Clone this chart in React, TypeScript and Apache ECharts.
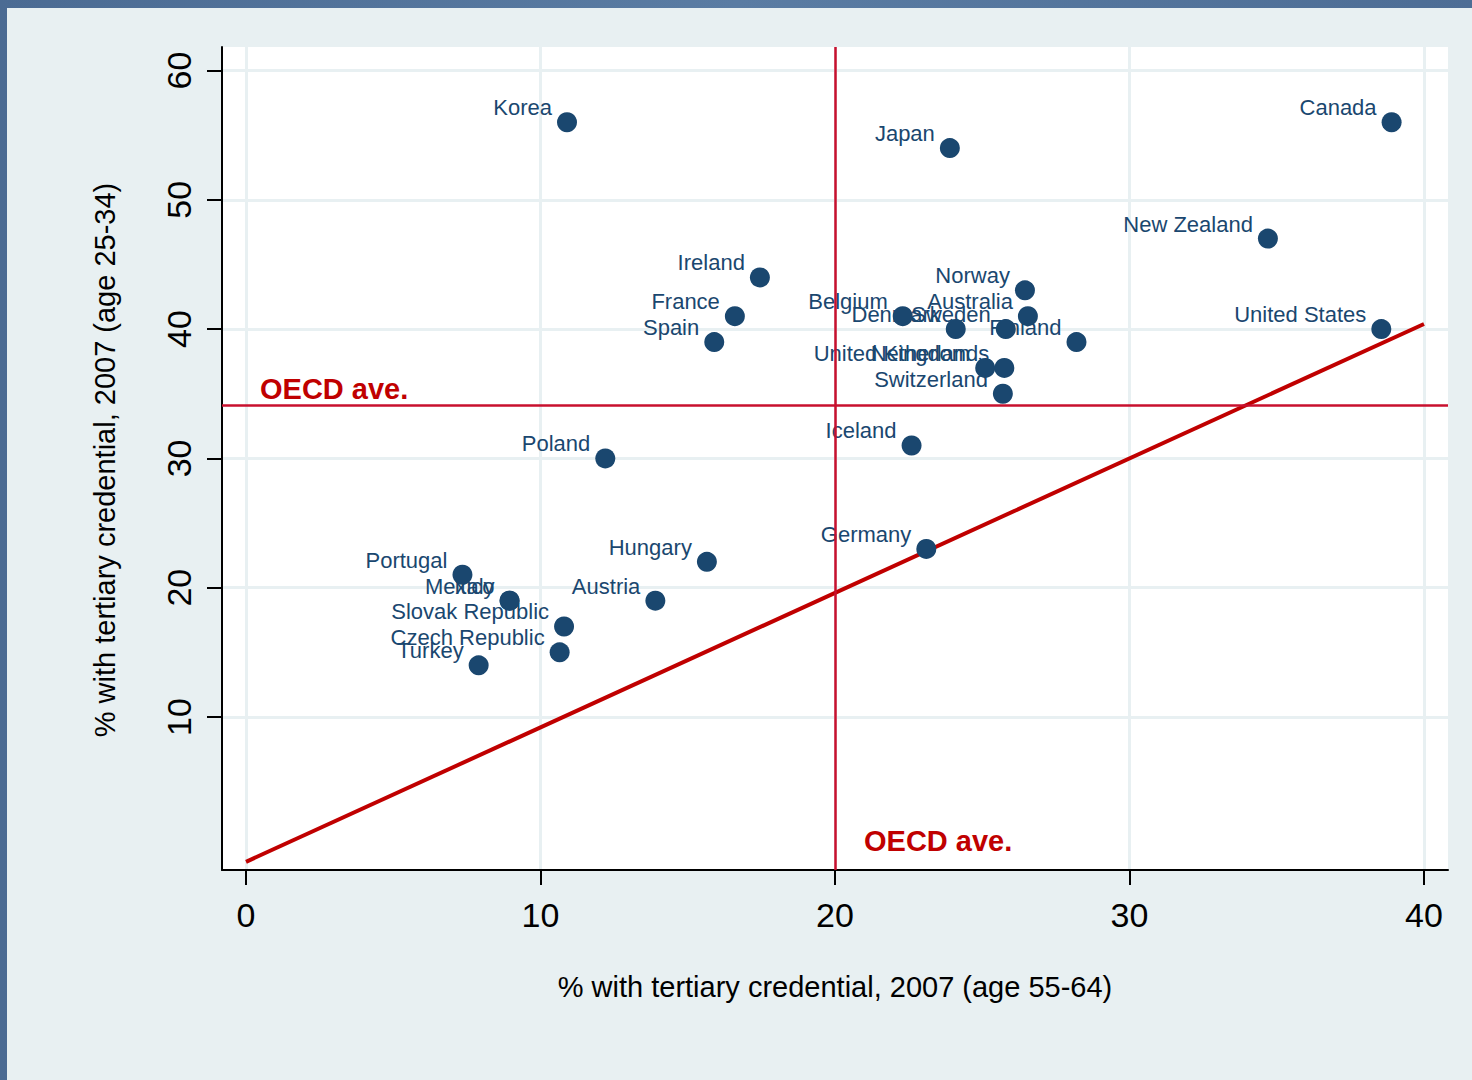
import React, { useEffect, useRef } from "react";
import * as echarts from "echarts";

const countries = [
  "Korea", "Japan", "Canada", "New Zealand", "Ireland", "France", "Spain",
  "Belgium", "Denmark", "Sweden", "Norway", "Australia", "Finland",
  "United Kingdom", "Netherlands", "Switzerland", "Iceland", "Germany",
  "United States", "Poland", "Hungary", "Austria", "Portugal", "Mexico",
  "Italy", "Slovak Republic", "Czech Republic", "Turkey",
];
const age5564 = [
  10.9, 23.9, 38.9, 34.7, 17.45, 16.6, 15.9,
  22.3, 24.1, 25.8, 26.45, 26.55, 28.2,
  25.1, 25.75, 25.7, 22.6, 23.1,
  38.55, 12.2, 15.65, 13.9, 7.35, 8.95,
  8.95, 10.8, 10.65, 7.9,
];
const age2534 = [
  56, 54, 56, 47, 44, 41, 39,
  41, 40, 40, 43, 41, 39,
  37, 37, 35, 31, 23,
  40, 30, 22, 19, 21, 19,
  19, 17, 15, 14,
];
const xTicks = [0, 10, 20, 30, 40];
const yTicks = [10, 20, 30, 40, 50, 60];
const oecdX = 20;
const oecdY = 34.13;
const diagLine = [
  [0, -1.2],
  [40, 40.4],
];

const NAVY = "#1a476f";
const RED = "#c00000";
const CRIMSON = "#c8102e";
const FONT = "'Liberation Sans', Arial, sans-serif";

export default function App() {
  const ref = useRef<HTMLDivElement>(null);
  useEffect(() => {
    if (!ref.current) return;
    const chart = echarts.init(ref.current, undefined, { renderer: "svg" });
    const points = countries.map((c, i) => ({ name: c, value: [age5564[i], age2534[i]] }));
    chart.setOption({
      animation: false,
      backgroundColor: "#e8f0f2",
      textStyle: { fontFamily: FONT },
      grid: {
        left: 215,
        top: 39,
        width: 1226,
        height: 823,
        show: true,
        backgroundColor: "#ffffff",
        borderWidth: 0,
      },
      xAxis: {
        type: "value",
        min: -0.815,
        max: 40.815,
        axisLine: { show: true, onZero: false, lineStyle: { color: "#000", width: 2 } },
        axisTick: {
          show: true,
          customValues: xTicks,
          length: 15,
          lineStyle: { color: "#000", width: 2 },
        },
        axisLabel: {
          customValues: xTicks,
          fontSize: 34,
          color: "#000",
          margin: 28,
          fontFamily: FONT,
        },
        splitLine: { show: true, lineStyle: { color: "#e8f0f2", width: 3 } },
      },
      yAxis: {
        type: "value",
        min: -1.833,
        max: 61.82,
        axisLine: { show: true, onZero: false, lineStyle: { color: "#000", width: 2 } },
        axisTick: {
          show: true,
          customValues: yTicks,
          length: 15,
          lineStyle: { color: "#000", width: 2 },
        },
        axisLabel: {
          customValues: yTicks,
          fontSize: 34,
          color: "#000",
          rotate: 90,
          margin: 26,
          fontFamily: FONT,
        },
        splitLine: { show: true, lineStyle: { color: "#e8f0f2", width: 3 } },
      },
      series: [
        {
          type: "line",
          data: diagLine,
          symbol: "none",
          lineStyle: { color: RED, width: 4 },
          silent: true,
          z: 3,
          markLine: {
            silent: true,
            symbol: "none",
            label: { show: false },
            lineStyle: { color: CRIMSON, width: 2.5, type: "solid" },
            data: [{ xAxis: oecdX }, { yAxis: oecdY }],
          },
        },
        {
          type: "scatter",
          data: points,
          symbol: "circle",
          symbolSize: 20,
          itemStyle: { color: NAVY, opacity: 1 },
          z: 4,
          label: {
            show: true,
            formatter: (p: any) => p.name,
            position: [-5, -4.5],
            align: "right",
            verticalAlign: "middle",
            color: NAVY,
            fontSize: 22,
            fontFamily: FONT,
          },
          labelLayout: { hideOverlap: false },
        },
      ],
      graphic: [
        {
          type: "text",
          left: 253,
          top: 366,
          style: {
            text: "OECD ave.",
            fill: RED,
            font: `bold 29px ${FONT}`,
          },
        },
        {
          type: "text",
          left: 857,
          top: 818,
          style: {
            text: "OECD ave.",
            fill: RED,
            font: `bold 29px ${FONT}`,
          },
        },
        {
          type: "text",
          x: 828,
          y: 979,
          style: {
            text: "% with tertiary credential, 2007 (age 55-64)",
            fill: "#000",
            font: `29px ${FONT}`,
            align: "center",
            verticalAlign: "middle",
          },
        },
        {
          type: "text",
          x: 98,
          y: 452,
          rotation: Math.PI / 2,
          style: {
            text: "% with tertiary credential, 2007 (age 25-34)",
            fill: "#000",
            font: `29px ${FONT}`,
            align: "center",
            verticalAlign: "middle",
          },
        },
      ],
    });
    return () => chart.dispose();
  }, []);

  return (
    <div
      style={{
        position: "fixed",
        left: 0,
        top: 0,
        width: 1472,
        height: 1080,
        background: "linear-gradient(90deg, #4b6b93 0%, #5a7ca3 50%, #4d6d95 100%)",
        overflow: "hidden",
      }}
    >
      <div
        ref={ref}
        style={{ position: "absolute", left: 7, top: 8, width: 1465, height: 1072 }}
      />
    </div>
  );
}
